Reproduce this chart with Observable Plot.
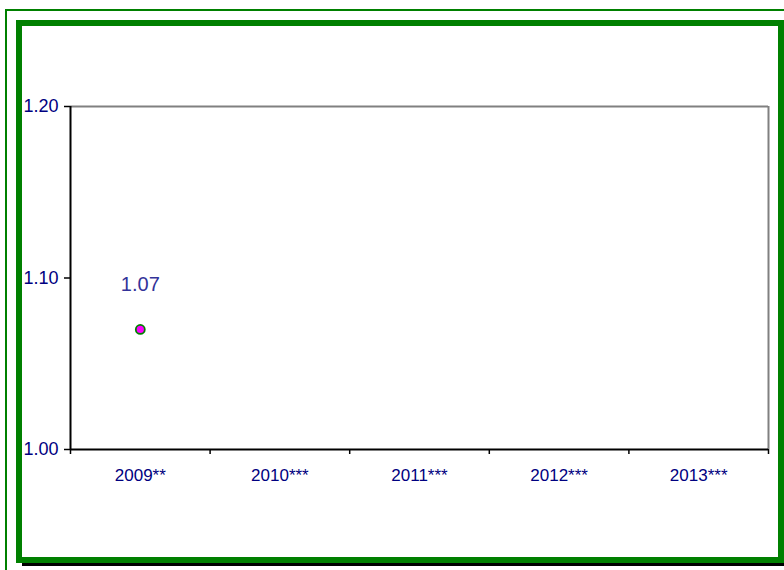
<!DOCTYPE html>
<html>
<head>
<meta charset="utf-8">
<script src="https://cdn.jsdelivr.net/npm/d3@7"></script>
<script src="https://cdn.jsdelivr.net/npm/@observablehq/plot@0.6"></script>
<style>
  html, body { margin: 0; padding: 0; background: #fff; overflow: hidden; }
  #wrap { position: relative; width: 784px; height: 570px; overflow: hidden; font-family: Arial, "Liberation Sans", sans-serif; }
  #outer { position: absolute; left: 5px; top: 9px; width: 800px; height: 600px; border-left: 2px solid #008000; border-top: 2px solid #008000; box-sizing: border-box; }
  #inner { position: absolute; left: 16px; top: 20px; width: 768px; height: 543px; border: 6px solid #008000; box-sizing: border-box; box-shadow: 6px 3px 0 #000; background: #fff; }
  #chart { position: absolute; left: 0; top: 0; }
</style>
</head>
<body>
<div id="wrap">
  <div id="outer"></div>
  <div id="inner"></div>
  <div id="chart"></div>
</div>
<script>
const categories = ["2009**", "2010***", "2011***", "2012***", "2013***"];
const values = [1.07, null, null, null, null];
const yTicks = [1.00, 1.10, 1.20];

const data = categories.map((c, i) => ({i, c, v: values[i]})).filter(d => d.v != null);
const bounds = d3.range(categories.length + 1);
const centers = categories.map((c, i) => i + 0.5);

const chart = Plot.plot({
  width: 784,
  height: 570,
  marginLeft: 70,
  marginRight: 16,
  marginTop: 106,
  marginBottom: 121,
  style: {background: "transparent", fontFamily: "Arial, 'Liberation Sans', sans-serif", overflow: "visible"},
  x: {type: "linear", domain: [0, categories.length]},
  y: {domain: [1.0, 1.2]},
  marks: [
    Plot.ruleY([1.2], {stroke: "#808080", strokeWidth: 2}),
    Plot.ruleX([categories.length], {stroke: "#808080", strokeWidth: 2}),
    Plot.axisY({ticks: yTicks, tickFormat: d3.format(".2f"), tickSize: 6, tickPadding: 6, stroke: "#000", strokeWidth: 1.5, strokeOpacity: 1, fill: "#000080", fontSize: 18, label: null}),
    Plot.axisX({ticks: bounds, tickFormat: () => "", tickSize: 5, stroke: "#000", strokeWidth: 1.5, strokeOpacity: 1, label: null}),
    Plot.axisX({ticks: centers, tickFormat: d => categories[Math.floor(d)], tickSize: 0, tickPadding: 19, fill: "#000080", fontSize: 17, label: null}),
    Plot.ruleX([0], {stroke: "#000", strokeWidth: 2}),
    Plot.ruleY([1.0], {stroke: "#000", strokeWidth: 2}),
    Plot.dot(data, {x: d => d.i + 0.5, y: "v", r: 4.5, fill: "#ff00ff", stroke: "#008000", strokeWidth: 1.8}),
    Plot.text(data, {x: d => d.i + 0.5, y: "v", text: d => d3.format(".2f")(d.v), dy: -45, fill: "#333399", fontSize: 20})
  ]
});
document.getElementById("chart").appendChild(chart);
</script>
</body>
</html>
